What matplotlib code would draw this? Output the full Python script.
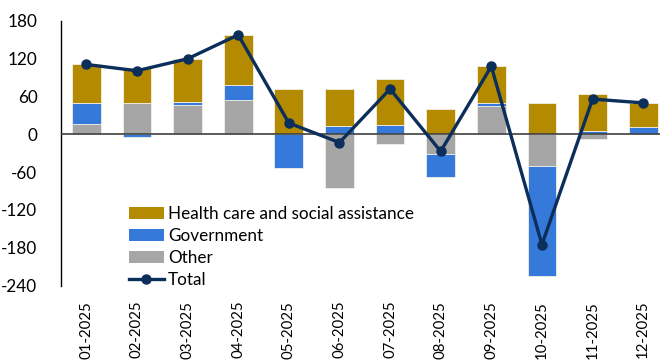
import matplotlib
matplotlib.use("Agg")
import matplotlib.pyplot as plt
from matplotlib.lines import Line2D
from matplotlib.patches import Patch
import numpy as np

months = ["01-2025", "02-2025", "03-2025", "04-2025", "05-2025", "06-2025",
          "07-2025", "08-2025", "09-2025", "10-2025", "11-2025", "12-2025"]
health = [62, 55, 68, 80, 72, 58, 73, 40, 59, 49, 59, 38]
government = [32, -4, 6, 24, -54, 14, 15, -36, 4, -175, 5, 12]
other = [17, 50, 46, 54, 0, -85, -16, -31, 45, -50, -8, 0]
total = [111, 101, 120, 158, 18, -13, 72, -27, 108, -175, 56, 50]
yticks = [-240, -180, -120, -60, 0, 60, 120, 180]

c_health = "#B38A00"
c_gov = "#3579DB"
c_other = "#A6A6A6"
c_total = "#0B2E5A"

plt.rcParams["font.family"] = ["Lato", "DejaVu Sans"]
fs = 12.3

fig = plt.figure(figsize=(6.6, 3.6), dpi=100)
ax = fig.add_axes([61 / 660, 1 - 285.5 / 360, 607.5 / 660, 264.5 / 360])

x = np.arange(len(months))
w = 0.57
edge = dict(edgecolor="#F2EFE6", linewidth=0.6)

# stack positive parts upward and negative parts downward
pos_base = np.zeros(len(months))
neg_base = np.zeros(len(months))
for vals, col in [(other, c_other), (government, c_gov), (health, c_health)]:
    v = np.array(vals, dtype=float)
    bottoms = np.where(v >= 0, pos_base, neg_base)
    ax.bar(x, v, w, bottom=bottoms, color=col, zorder=2, **edge)
    pos_base += np.where(v >= 0, v, 0)
    neg_base += np.where(v < 0, v, 0)

ax.axhline(0, color="#404040", linewidth=1.2, zorder=3)
ax.plot(x, total, color=c_total, linewidth=2.4, marker="o", markersize=6.5,
        zorder=4)

ax.set_xlim(-0.5, len(months) - 0.5)
ax.set_ylim(-240, 180)
ax.set_yticks(yticks)
ax.set_yticklabels([str(t) for t in yticks], fontsize=fs)
ax.tick_params(axis="y", length=0, pad=17)
ax.set_xticks(x)
ax.set_xticklabels(months, rotation=90, fontsize=10.8)
ax.tick_params(axis="x", length=0, pad=11)

for s in ["top", "right", "bottom"]:
    ax.spines[s].set_visible(False)
ax.spines["left"].set_color("#000000")
ax.spines["left"].set_linewidth(1.0)

handles = [
    Patch(facecolor=c_health, label="Health care and social assistance"),
    Patch(facecolor=c_gov, label="Government"),
    Patch(facecolor=c_other, label="Other"),
    Line2D([0], [0], color=c_total, linewidth=2.4, marker="o", markersize=6.5,
           label="Total"),
]
fig.legend(handles=handles, loc="upper left",
           bbox_to_anchor=(122 / 660, 1 - 199 / 360), frameon=False,
           fontsize=fs, handlelength=2.05, handleheight=0.65,
           handletextpad=0.25, labelspacing=0.36, borderaxespad=0)

fig.savefig("out.png", dpi=100)
